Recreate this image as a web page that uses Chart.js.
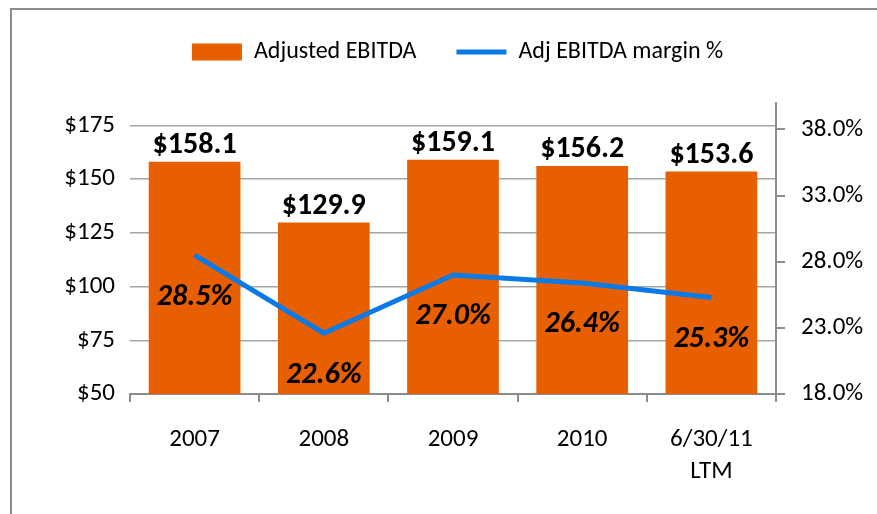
<!DOCTYPE html>
<html>
<head>
<meta charset="utf-8">
<script src="https://cdn.jsdelivr.net/npm/chart.js@4.4.1/dist/chart.umd.min.js"></script>
<style>
  html, body { margin: 0; padding: 0; background: #fff; }
  #wrap { width: 877px; height: 514px; }
</style>
</head>
<body>
<div id="wrap"><canvas id="myChart" width="877" height="514"></canvas></div>
<script>
var categories = [['2007'], ['2008'], ['2009'], ['2010'], ['6/30/11', 'LTM']];
var ebitda = [158.1, 129.9, 159.1, 156.2, 153.6];
var margin = [28.5, 22.6, 27.0, 26.4, 25.3];
var leftTicks = [50, 75, 100, 125, 150, 175];
var rightTicks = [18, 23, 28, 33, 38];

var FONT = "Carlito, Lato, sans-serif";

// frame line round the picture + value labels
var extras = {
    id: 'extras',
    beforeInit: function (chart) {
        // empty strip between legend and plot
        Chart.layouts.addBox(chart, {
            position: 'top',
            weight: 0,
            fullSize: true,
            options: {},
            top: 0, left: 0, right: 0, bottom: 0, width: 0, height: 0,
            isHorizontal: function () { return true; },
            getPadding: function () { return { top: 0, left: 0, right: 0, bottom: 0 }; },
            update: function (w) { this.width = w; this.height = 29; },
            draw: function () {}
        });
    },
    beforeDraw: function (chart) {
        var c = chart.ctx;
        c.save();
        c.strokeStyle = '#8c8c8c';
        c.lineWidth = 2;
        c.beginPath();
        c.moveTo(11, 514);
        c.lineTo(11, 9);
        c.lineTo(877, 9);
        c.stroke();
        c.restore();
    },
    afterDatasetsDraw: function (chart) {
        var c = chart.ctx;
        c.save();
        c.fillStyle = '#000';
        c.textAlign = 'center';
        var bars = chart.getDatasetMeta(0).data;
        c.font = 'bold 30px ' + FONT;
        c.textBaseline = 'bottom';
        bars.forEach(function (b, i) {
            c.fillText('$' + ebitda[i].toFixed(1), b.x, b.y - 1);
        });
        var pts = chart.getDatasetMeta(1).data;
        c.font = 'italic bold 30px ' + FONT;
        c.textBaseline = 'middle';
        pts.forEach(function (p, i) {
            c.fillText(margin[i].toFixed(1) + '%', p.x, p.y + 42);
        });
        c.restore();
    }
};

document.addEventListener('DOMContentLoaded', function () {
    var ctx = document.getElementById('myChart').getContext('2d');
    var myChart = new Chart(ctx, {
        type: 'bar',
        data: {
            labels: categories,
            datasets: [{
                type: 'bar',
                label: 'Adjusted EBITDA',
                data: ebitda,
                backgroundColor: '#E85F00',
                borderWidth: 0,
                barPercentage: 0.71,
                categoryPercentage: 1.0,
                pointStyle: 'rect',
                yAxisID: 'y',
                order: 2
            }, {
                type: 'line',
                label: 'Adj EBITDA margin %',
                data: margin,
                borderColor: '#0A7BE6',
                backgroundColor: '#0A7BE6',
                borderWidth: 5,
                pointRadius: 0,
                pointStyle: 'line',
                tension: 0,
                yAxisID: 'y1',
                order: 1
            }]
        },
        options: {
            responsive: false,
            animation: false,
            layout: { padding: { left: 38, top: 0, right: 0, bottom: 0 } },
            plugins: {
                legend: {
                    position: 'top',
                    labels: {
                        usePointStyle: true,
                        pointStyleWidth: 50,
                        boxHeight: 17,
                        padding: 40,
                        color: '#000',
                        font: { family: FONT, size: 24 },
                        sort: function (a, b) { return a.datasetIndex - b.datasetIndex; }
                    }
                },
                tooltip: { enabled: false }
            },
            scales: {
                x: {
                    offset: true,
                    grid: { offset: true, drawOnChartArea: false, color: '#8c8c8c', tickLength: 8, lineWidth: 2 },
                    border: { color: '#8c8c8c', width: 2 },
                    ticks: { color: '#000', padding: 21, maxRotation: 0, font: { family: FONT, size: 25, lineHeight: 1.3 } },
                    afterFit: function (s) { s.height = 120; }
                },
                y: {
                    position: 'left',
                    min: 50,
                    max: 185.5,
                    grid: { color: '#a6a6a6', lineWidth: 1.5, drawTicks: false },
                    border: { display: false },
                    afterBuildTicks: function (s) { s.ticks = leftTicks.map(function (v) { return { value: v }; }); },
                    ticks: {
                        color: '#000',
                        padding: 15,
                        font: { family: FONT, size: 25 },
                        callback: function (v) { return '$' + v; }
                    },
                    afterFit: function (s) { s.width = 92; }
                },
                y1: {
                    position: 'right',
                    min: 18,
                    max: 40,
                    grid: { drawOnChartArea: false, color: '#8c8c8c', tickLength: 9, lineWidth: 2 },
                    border: { color: '#8c8c8c', width: 2 },
                    afterBuildTicks: function (s) { s.ticks = rightTicks.map(function (v) { return { value: v }; }); },
                    ticks: {
                        color: '#000',
                        padding: 16,
                        font: { family: FONT, size: 25 },
                        callback: function (v) { return v.toFixed(1) + '%'; }
                    },
                    afterFit: function (s) { s.width = 101; }
                }
            }
        },
        plugins: [extras]
    });
});
</script>
</body>
</html>
